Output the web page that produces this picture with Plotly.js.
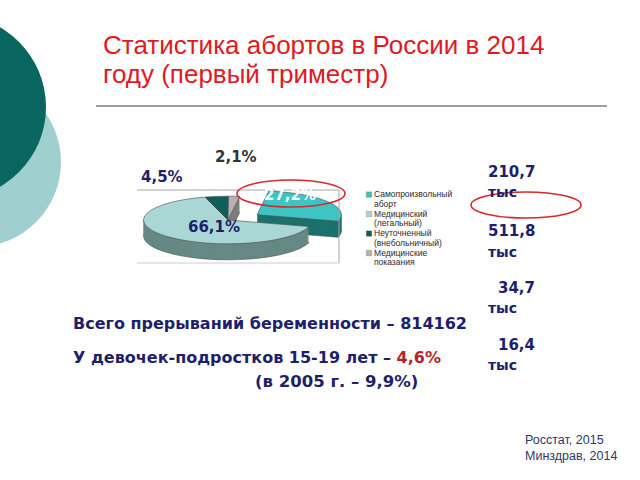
<!DOCTYPE html>
<html>
<head>
<meta charset="utf-8">
<script src="https://cdn.plot.ly/plotly-3.0.1.min.js"></script>
<style>
  html, body { margin: 0; padding: 0; background: #ffffff; }
  #chart { width: 640px; height: 480px; }
  .pielayer path { vector-effect: non-scaling-stroke; }
</style>
</head>
<body>
<div id="chart"></div>
<script>
// ---- data ----
const categories = ['Самопроизвольный<br>аборт', 'Медицинский<br>(легальный)', 'Неуточненный<br>(внебольничный)', 'Медицинские<br>показания'];
const valuesThousands = [210.7, 511.8, 34.7, 16.4];
const shareLabels = ['27,2%', '66,1%', '4,5%', '2,1%'];
const valueLabels = ['210,7', '511,8', '34,7', '16,4'];
const unitLabel = 'тыс';
const pullValues = [0.41, 0, 0, 0];

const titleLines = ['Статистика абортов в России в 2014', 'году (первый триместр)'];
const totalText = 'Всего прерываний беременности – 814162';
const teenText = 'У девочек-подростков 15-19 лет – ';
const teenShare = '4,6%';
const teenPast = '(в 2005 г. – 9,9%)';
const sources = ['Росстат, 2015', 'Минздрав, 2014'];

// ---- styling ----
const W = 640, H = 480;
const px = x => x / W;
const py = y => 1 - y / H;

const topColors = ['#3cc5c3', '#a8d7d6', '#0f5e5a', '#b3b3b3'];
const sideColors = ['#1c716c', '#668985', '#0a413e', '#7c7c7c'];
const depth = 16;
const flatten = 24 / 85;

const pieDomain = { x: [px(109), px(347)], y: [py(339), py(101)] };

const data = [];
for (let d = depth; d >= 1; d--) {
  data.push({
    type: 'pie', labels: categories, values: valuesThousands,
    sort: false, direction: 'clockwise', rotation: 8,
    pull: pullValues, domain: pieDomain, textinfo: 'none',
    hoverinfo: 'skip', showlegend: false,
    marker: { colors: sideColors, line: { width: d === depth ? 0.6 : 0, color: '#3d4f4e' } }
  });
}
data.push({
  type: 'pie', labels: categories, values: valuesThousands,
  sort: false, direction: 'clockwise', rotation: 8,
  pull: pullValues, domain: pieDomain, textinfo: 'none',
  hoverinfo: 'skip', showlegend: true,
  marker: { colors: topColors, line: { width: 0.6, color: '#4a4a4a' } }
});

const navy = '#1d1f6b';
const bold = 'DejaVu Sans';
const ann = [];
function addText(text, x, y, size, color, family, anchor) {
  ann.push({
    text: text, xref: 'paper', yref: 'paper', x: px(x), y: py(y),
    xanchor: anchor || 'left', yanchor: 'middle', showarrow: false,
    font: { family: family, size: size, color: color }
  });
}
// title
addText(titleLines[0], 101, 45, 26, '#e2191f', 'Liberation Sans');
addText(titleLines[1], 101, 74, 26, '#e2191f', 'Liberation Sans');
// share labels
addText('<b>' + shareLabels[3] + '</b>', 213, 157, 15, '#333333', bold);
addText('<b>' + shareLabels[2] + '</b>', 139, 177, 15, navy, bold);
addText('<b>' + shareLabels[1] + '</b>', 186, 227, 15, navy, bold);
addText('<b>' + shareLabels[0] + '</b>', 262, 195, 15, '#ffffff', bold);
// values in thousands
const valueY = [172, 231, 288, 345];
const unitY = [192, 252, 308, 365];
for (let i = 0; i < valueLabels.length; i++) {
  addText('<b>' + valueLabels[i] + '</b>', 537, valueY[i], 15, navy, bold, 'right');
  addText('<b>' + unitLabel + '</b>', 486, unitY[i], 14, navy, bold);
}
// bottom text
addText('<b>' + totalText + '</b>', 71, 323, 16, navy, bold);
addText('<b>' + teenText + '<span style="color:#b0262a">' + teenShare + '</span></b>', 71, 357, 16, navy, bold);
addText('<b>' + teenPast + '</b>', 253, 381, 16.5, navy, bold);
// sources
addText(sources[0], 523, 440, 12.5, '#33366a', 'Liberation Sans');
addText(sources[1], 523, 456, 12.5, '#33366a', 'Liberation Sans');

const shapes = [
  // decorative circles
  { type: 'circle', xref: 'paper', yref: 'paper', layer: 'below',
    x0: px(-109), x1: px(61), y0: py(247), y1: py(77),
    fillcolor: '#9fcfce', line: { width: 0 } },
  { type: 'circle', xref: 'paper', yref: 'paper', layer: 'below',
    x0: px(-138), x1: px(46), y0: py(199), y1: py(15),
    fillcolor: '#0a6661', line: { width: 0 } },
  // title rule
  { type: 'line', xref: 'paper', yref: 'paper', x0: px(96), x1: px(607), y0: py(106), y1: py(106),
    line: { color: '#7f7f7f', width: 1.5 } },
  // plot area frame
  { type: 'line', xref: 'paper', yref: 'paper', x0: px(137), x1: px(339), y0: py(190), y1: py(190),
    line: { color: '#a6a6a6', width: 1 } },
  { type: 'line', xref: 'paper', yref: 'paper', x0: px(339), x1: px(339), y0: py(190), y1: py(263),
    line: { color: '#a6a6a6', width: 1 } },
  { type: 'line', xref: 'paper', yref: 'paper', x0: px(137), x1: px(339), y0: py(263), y1: py(263),
    line: { color: '#cccccc', width: 1 } },
  // red highlight ellipses
  { type: 'circle', xref: 'paper', yref: 'paper', layer: 'above',
    x0: px(237), x1: px(345), y0: py(207), y1: py(180),
    line: { color: '#d62a2e', width: 1.6 } },
  { type: 'circle', xref: 'paper', yref: 'paper', layer: 'above',
    x0: px(471), x1: px(581), y0: py(218), y1: py(192),
    line: { color: '#d62a2e', width: 1.6 } }
];

const layout = {
  width: W, height: H,
  margin: { l: 0, r: 0, t: 0, b: 0 },
  paper_bgcolor: '#ffffff',
  showlegend: true,
  legend: {
    x: px(334), y: py(180), xanchor: 'left', yanchor: 'top',
    bgcolor: 'rgba(0,0,0,0)', font: { family: 'Liberation Sans', size: 8.5, color: '#2a2a2a' },
    traceorder: 'normal'
  },
  annotations: ann,
  shapes: shapes
};

const gd = document.getElementById('chart');
Plotly.newPlot(gd, data, layout, { staticPlot: true }).then(() => {
  // flatten the pie into a tilted disc; lower copies form the side wall
  const groups = gd.querySelectorAll('.pielayer > .trace');
  groups.forEach((g, i) => {
    const cy = gd.calcdata[i][0].cy;
    const off = i < depth ? depth - i : 0;
    g.setAttribute('transform', 'translate(0,' + (cy + off) + ') scale(1,' + flatten + ') translate(0,' + (-cy) + ')');
  });
  // compact legend entries
  const items = gd.querySelectorAll('.legend .traces');
  let baseY = null, baseX = 0;
  items.forEach((it, i) => {
    const m = /translate\(([-\d.]+)[ ,]+([-\d.]+)\)/.exec(it.getAttribute('transform') || '');
    const x = m ? parseFloat(m[1]) : 0;
    const y = m ? parseFloat(m[2]) : 0;
    if (baseY === null) { baseY = y; baseX = x; }
    it.setAttribute('transform', 'translate(' + baseX + ',' + (baseY + 2 + i * 19.5) + ')');
    it.querySelectorAll('.legendtext tspan.line').forEach((t, k) => {
      if (k > 0) t.setAttribute('dy', '1.12em');
    });
  });
  gd.querySelectorAll('.legend .legendpoints path').forEach(p => {
    p.setAttribute('transform', 'translate(35,-5) scale(0.45)');
  });
});
</script>
</body>
</html>
